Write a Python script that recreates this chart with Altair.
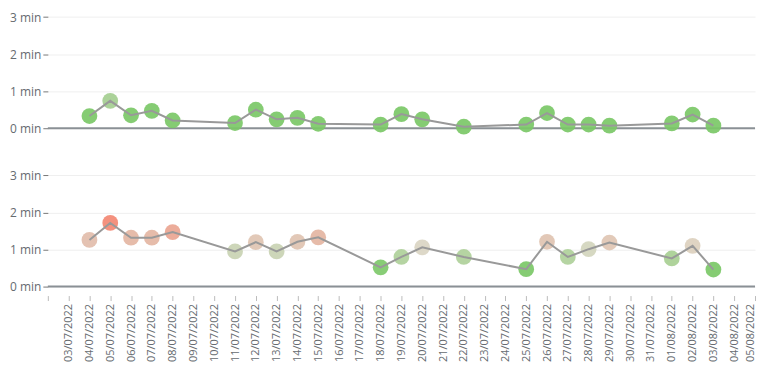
import altair as alt
import pandas as pd

dates = ["2022-07-04", "2022-07-05", "2022-07-06", "2022-07-07", "2022-07-08",
         "2022-07-11", "2022-07-12", "2022-07-13", "2022-07-14", "2022-07-15",
         "2022-07-18", "2022-07-19", "2022-07-20", "2022-07-22", "2022-07-25",
         "2022-07-26", "2022-07-27", "2022-07-28", "2022-07-29", "2022-08-01",
         "2022-08-02", "2022-08-03"]
top_values = [0.33, 0.74, 0.35, 0.47, 0.21, 0.14, 0.50, 0.24, 0.28, 0.12,
              0.10, 0.38, 0.24, 0.04, 0.10, 0.41, 0.10, 0.10, 0.07, 0.13,
              0.37, 0.07]
bottom_values = [1.26, 1.72, 1.32, 1.32, 1.47, 0.95, 1.20, 0.95, 1.21, 1.33,
                 0.52, 0.80, 1.06, 0.80, 0.47, 1.21, 0.80, 1.01, 1.19, 0.76,
                 1.10, 0.46]
y_ticks = [0, 1, 2, 3]
tick_days = pd.date_range("2022-07-02", "2022-08-05", freq="D")
tick_ms = [int(t.value // 10**6) for t in tick_days]

top_df = pd.DataFrame({"date": dates, "value": top_values})
bottom_df = pd.DataFrame({"date": dates, "value": bottom_values})

FONT = "Open Sans"
LABEL_COLOR = "#666b70"

x_scale = alt.Scale(type="utc",
                    domain=[alt.DateTime(year=2022, month=7, date=2, utc=True),
                            alt.DateTime(year=2022, month=8, date=5, utc=True)])
color_scale = alt.Scale(domain=[0.5, 1.05, 1.75],
                        range=["#7bc867", "#dad6c4", "#f4846f"], clamp=True,
                        interpolate="rgb")
y_axis = alt.Axis(values=y_ticks, labelExpr="datum.value + ' min'", title=None,
                  domain=False, tickSize=5, tickColor="#777777", labelPadding=2,
                  gridColor="#efefef", labelFont=FONT, labelFontSize=12,
                  labelColor=LABEL_COLOR)
y_scale = alt.Scale(domain=[0, 3.2], nice=False)

bottom_x_axis = alt.Axis(values=tick_ms, title=None, labelAngle=270, offset=9,
                         domain=False, tickSize=5, tickColor="#bbbbbb",
                         labelExpr="datum.index == 0 ? '' : utcFormat(datum.value, '%d/%m/%Y')",
                         labelBaseline={"condition": {"test": "datum.index == 1", "value": "bottom"},
                                        "value": "middle"},
                         labelOverlap=False, labelPadding=3,
                         labelFont=FONT, labelFontSize=11, labelColor=LABEL_COLOR,
                         grid=False)


def panel(df, xaxis):
    base = alt.Chart(df)
    zero = alt.Chart(pd.DataFrame({"z": [0]})).mark_rule(
        color="#8a9095", strokeWidth=2).encode(
        y=alt.Y("z:Q", scale=y_scale, axis=y_axis))
    pts = base.mark_circle(size=250, opacity=0.92).encode(
        x=alt.X("date:T", scale=x_scale, axis=xaxis),
        y=alt.Y("value:Q", scale=y_scale, axis=y_axis),
        color=alt.Color("value:Q", scale=color_scale, legend=None),
    )
    line = base.mark_line(color="#999999", strokeWidth=2).encode(
        x=alt.X("date:T", scale=x_scale, axis=xaxis),
        y=alt.Y("value:Q", scale=y_scale, axis=y_axis),
    )
    return alt.layer(zero, pts, line).properties(width=710, height=119)


top = panel(top_df, None)
bottom = panel(bottom_df, bottom_x_axis)

chart = alt.vconcat(top, bottom, spacing=33).properties(
    padding={"left": 1, "top": 1, "right": 0, "bottom": 0}
).configure_view(stroke=None)

chart.save("out.html", embed_options={"renderer": "svg", "actions": False})
